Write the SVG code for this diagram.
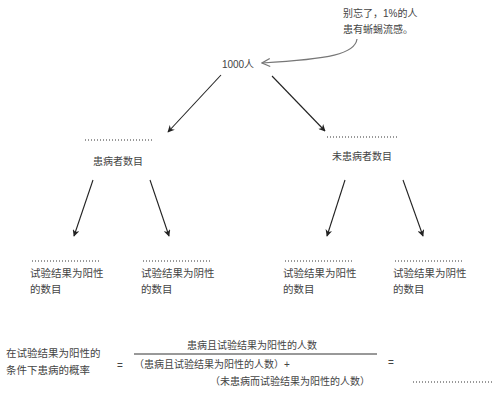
<svg xmlns="http://www.w3.org/2000/svg" width="501" height="415" viewBox="0 0 501 415">
<style>
text{font-family:"Liberation Sans","Noto Sans CJK SC",sans-serif;fill:#444;font-size:10px}
.big{font-size:10.5px}
.dot{stroke:#333;stroke-width:1;stroke-dasharray:1 2;fill:none}
.arr{stroke:#222;stroke-width:1.1;fill:none;marker-end:url(#ah)}
</style>
<defs>
<marker id="ah" viewBox="0 0 10 10" refX="9" refY="5" markerWidth="7" markerHeight="7" orient="auto" markerUnits="userSpaceOnUse">
<path d="M0,0 L10,5 L0,10 L3,5 z" fill="#222"/>
</marker>
<marker id="oh" viewBox="0 0 10 10" refX="9" refY="5" markerWidth="10" markerHeight="10" orient="auto" markerUnits="userSpaceOnUse">
<path d="M1,1 L9,5 L1,9" fill="none" stroke="#777" stroke-width="1.3"/>
</marker>
</defs>
<rect width="501" height="415" fill="#fff"/>
<g id="connectors">
<path class="arr" d="M221,75 L168,132"/>
<path class="arr" d="M272,76 L325,131"/>
<path class="arr" d="M93,180 L74,236"/>
<path class="arr" d="M150,180 L169,236"/>
<path class="arr" d="M345,180 L327,236"/>
<path class="arr" d="M403,180 L423,236"/>
<path d="M357,39 C355,54 330,59 262,63" fill="none" stroke="#777" stroke-width="1.2" marker-end="url(#oh)"/>
</g>
<g id="note">
<text x="343" y="17" font-size="11">别忘了，1%的人</text>
<text x="343" y="33" font-size="11">患有蜥蜴流感。</text>
</g>
<g id="root"><text x="238" y="68" text-anchor="middle">1000人</text></g>
<g id="ill">
<line class="dot" x1="85" y1="140" x2="152" y2="140"/>
<text x="118" y="165" text-anchor="middle">患病者数目</text>
</g>
<g id="notill">
<line class="dot" x1="327" y1="137" x2="397" y2="137"/>
<text x="362" y="160" text-anchor="middle">未患病者数目</text>
</g>
<g id="leaf1">
<line class="dot" x1="32" y1="261" x2="100" y2="261"/>
<text class="big" x="30" y="277">试验结果为阳性</text>
<text class="big" x="30" y="293">的数目</text>
</g>
<g id="leaf2">
<line class="dot" x1="143" y1="261" x2="212" y2="261"/>
<text class="big" x="141" y="277">试验结果为阴性</text>
<text class="big" x="141" y="293">的数目</text>
</g>
<g id="leaf3">
<line class="dot" x1="285" y1="261" x2="353" y2="261"/>
<text class="big" x="283" y="277">试验结果为阳性</text>
<text class="big" x="283" y="293">的数目</text>
</g>
<g id="leaf4">
<line class="dot" x1="395" y1="261" x2="463" y2="261"/>
<text class="big" x="393" y="277">试验结果为阴性</text>
<text class="big" x="393" y="293">的数目</text>
</g>
<g id="formula">
<text class="big" x="6" y="357">在试验结果为阳性的</text>
<text class="big" x="6" y="374">条件下患病的概率</text>
<text x="117" y="369" font-size="11">=</text>
<text x="187" y="349">患病且试验结果为阳性的人数</text>
<line x1="134" y1="354" x2="377" y2="354" stroke="#333" stroke-width="1"/>
<text x="134" y="368">（患病且试验结果为阳性的人数）+</text>
<text x="210" y="385">（未患病而试验结果为阳性的人数）</text>
<text x="388" y="366" font-size="11">=</text>
<line class="dot" x1="413" y1="382" x2="492" y2="382"/>
</g>
</svg>
